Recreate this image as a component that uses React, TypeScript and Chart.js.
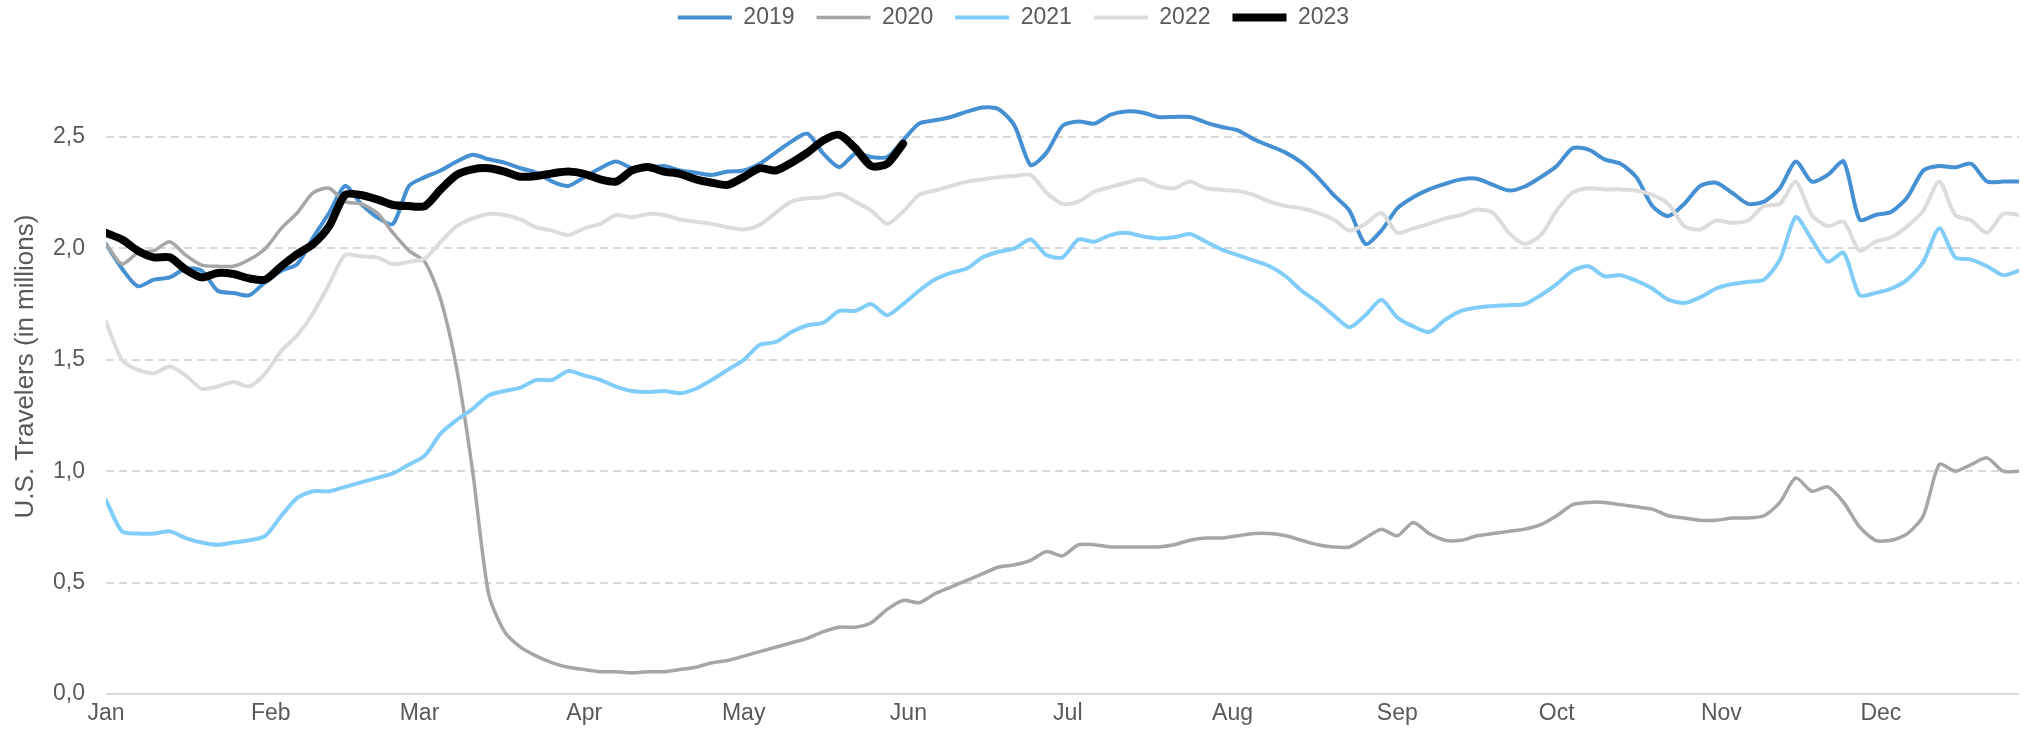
import React, { useEffect, useRef } from "react";
import { Chart, registerables } from "chart.js";

Chart.register(...registerables);

// Day of year (0 = Jan 1) for each sample
const days = [
  0, 3, 6, 9, 12, 15, 18, 21, 24, 27, 30, 33, 36, 39, 42, 45, 48, 51, 54, 57,
  60, 63, 66, 69, 72, 75, 78, 81, 84, 87, 90, 93, 96, 99, 102, 105, 108, 111, 114, 117,
  120, 123, 126, 129, 132, 135, 138, 141, 144, 147, 150, 153, 156, 159, 162, 165, 168, 171, 174, 177,
  180, 183, 186, 189, 192, 195, 198, 201, 204, 207, 210, 213, 216, 219, 222, 225, 228, 231, 234, 237,
  240, 243, 246, 249, 252, 255, 258, 261, 264, 267, 270, 273, 276, 279, 282, 285, 288, 291, 294, 297,
  300, 303, 306, 309, 312, 315, 318, 321, 324, 327, 330, 333, 336, 339, 342, 345, 348, 351, 354, 357, 360,
];

const travelers2019 = [
  2.02, 1.91, 1.83, 1.86, 1.87, 1.91, 1.90, 1.81, 1.80, 1.79, 1.85, 1.90, 1.93, 2.05, 2.16, 2.28, 2.20, 2.14, 2.11, 2.28,
  2.32, 2.35, 2.39, 2.42, 2.40, 2.385, 2.36, 2.34, 2.30, 2.28, 2.32, 2.36, 2.39, 2.36, 2.36, 2.37, 2.35, 2.34, 2.33, 2.345,
  2.35, 2.38, 2.43, 2.48, 2.515, 2.425, 2.365, 2.425, 2.41, 2.41, 2.485, 2.56, 2.575, 2.59, 2.614, 2.633, 2.625, 2.55, 2.374, 2.43,
  2.55, 2.57, 2.56, 2.60, 2.615, 2.61, 2.59, 2.59, 2.59, 2.565, 2.545, 2.53, 2.49, 2.46, 2.43, 2.385, 2.32, 2.24, 2.17, 2.02,
  2.08, 2.18, 2.23, 2.265, 2.29, 2.31, 2.313, 2.285, 2.26, 2.278, 2.32, 2.37, 2.45, 2.443, 2.40, 2.38, 2.32, 2.19, 2.145, 2.2,
  2.28, 2.295, 2.25, 2.20, 2.21, 2.27, 2.39, 2.30, 2.33, 2.39, 2.13, 2.15, 2.165, 2.23, 2.35, 2.37, 2.364, 2.38, 2.30, 2.30, 2.30,
];

const travelers2020 = [
  2.02, 1.93, 1.98, 1.99, 2.03, 1.97, 1.925, 1.92, 1.92, 1.95, 2.0, 2.09, 2.16, 2.25, 2.27, 2.21, 2.20, 2.16, 2.07, 1.99,
  1.94, 1.77, 1.46, 1.0, 0.45, 0.28, 0.21, 0.17, 0.14, 0.12, 0.11, 0.10, 0.10, 0.095, 0.10, 0.10, 0.11, 0.12, 0.14, 0.15,
  0.17, 0.19, 0.21, 0.23, 0.25, 0.28, 0.30, 0.30, 0.32, 0.38, 0.42, 0.41, 0.45, 0.48, 0.51, 0.54, 0.57, 0.58, 0.60, 0.64,
  0.62, 0.67, 0.67, 0.66, 0.66, 0.66, 0.66, 0.67, 0.69, 0.70, 0.70, 0.71, 0.72, 0.72, 0.71, 0.69, 0.67, 0.66, 0.66, 0.70,
  0.74, 0.71, 0.77, 0.72, 0.69, 0.69, 0.71, 0.72, 0.73, 0.74, 0.76, 0.80, 0.85, 0.86, 0.86, 0.85, 0.84, 0.83, 0.80, 0.79,
  0.78, 0.78, 0.79, 0.79, 0.80, 0.86, 0.97, 0.91, 0.93, 0.86, 0.75, 0.69, 0.69, 0.72, 0.80, 1.03, 1.0, 1.03, 1.06, 1.0, 1.0,
];

const travelers2021 = [
  0.87, 0.73, 0.72, 0.72, 0.73, 0.70, 0.68, 0.67, 0.68, 0.69, 0.71, 0.80, 0.88, 0.91, 0.91, 0.93, 0.95, 0.97, 0.99, 1.03,
  1.07, 1.17, 1.23, 1.28, 1.34, 1.36, 1.375, 1.41, 1.41, 1.45, 1.43, 1.41, 1.38, 1.36, 1.355, 1.36, 1.35, 1.37, 1.41, 1.455,
  1.50, 1.567, 1.58, 1.625, 1.655, 1.667, 1.72, 1.72, 1.75, 1.70, 1.75, 1.81, 1.86, 1.89, 1.91, 1.96, 1.985, 2.0, 2.04, 1.97,
  1.96, 2.04, 2.03, 2.06, 2.07, 2.055, 2.045, 2.05, 2.065, 2.03, 1.995, 1.97, 1.945, 1.92, 1.875, 1.81, 1.76, 1.70, 1.646, 1.70,
  1.77, 1.69, 1.65, 1.625, 1.68, 1.72, 1.735, 1.742, 1.745, 1.75, 1.79, 1.84, 1.90, 1.92, 1.875, 1.88, 1.855, 1.82, 1.77, 1.755,
  1.78, 1.82, 1.84, 1.85, 1.86, 1.95, 2.14, 2.04, 1.94, 1.98, 1.79, 1.80, 1.82, 1.86, 1.94, 2.09, 1.96, 1.95, 1.92, 1.88, 1.90,
];

const travelers2022 = [
  1.67, 1.50, 1.455, 1.44, 1.47, 1.43, 1.37, 1.38, 1.40, 1.38, 1.44, 1.54, 1.61, 1.71, 1.84, 1.97, 1.965, 1.96, 1.93, 1.94,
  1.955, 2.03, 2.10, 2.135, 2.155, 2.15, 2.13, 2.095, 2.08, 2.06, 2.09, 2.11, 2.15, 2.14, 2.155, 2.15, 2.13, 2.12, 2.11, 2.095,
  2.085, 2.105, 2.16, 2.21, 2.225, 2.23, 2.245, 2.21, 2.17, 2.11, 2.165, 2.24, 2.26, 2.28, 2.30, 2.31, 2.32, 2.325, 2.33, 2.25,
  2.20, 2.21, 2.255, 2.275, 2.295, 2.31, 2.28, 2.27, 2.30, 2.27, 2.263, 2.258, 2.24, 2.21, 2.19, 2.18, 2.16, 2.13, 2.08, 2.11,
  2.16, 2.07, 2.09, 2.11, 2.135, 2.15, 2.175, 2.16, 2.07, 2.02, 2.06, 2.17, 2.25, 2.27, 2.265, 2.265, 2.26, 2.24, 2.20, 2.10,
  2.085, 2.125, 2.115, 2.125, 2.19, 2.20, 2.30, 2.15, 2.10, 2.12, 1.99, 2.03, 2.05, 2.10, 2.17, 2.30, 2.15, 2.125, 2.07, 2.155, 2.15,
];

// 2023 data runs only to early June
const travelers2023 = [
  2.07, 2.04, 1.99, 1.96, 1.96, 1.905, 1.87, 1.89, 1.885, 1.865, 1.86, 1.92, 1.975, 2.02, 2.10, 2.24, 2.24, 2.22, 2.195, 2.19,
  2.19, 2.265, 2.33, 2.355, 2.36, 2.345, 2.322, 2.325, 2.337, 2.345, 2.335, 2.31, 2.30, 2.35, 2.365, 2.345, 2.335, 2.31, 2.295, 2.285,
  2.32, 2.36, 2.35, 2.385, 2.43, 2.485, 2.51, 2.45, 2.37, 2.38, 2.47,
];

const monthTicks = [0, 31, 59, 90, 120, 151, 181, 212, 243, 273, 304, 334];
const monthLabels = ["Jan", "Feb", "Mar", "Apr", "May", "Jun", "Jul", "Aug", "Sep", "Oct", "Nov", "Dec"];
const yTicks = [0, 0.5, 1, 1.5, 2, 2.5];

const seriesNames = ["2019", "2020", "2021", "2022", "2023"];
const seriesValues = [travelers2019, travelers2020, travelers2021, travelers2022, travelers2023];
const seriesColors = ["#4590D3", "#A6A6A6", "#80CDFA", "#DCDCDC", "#000000"];
const seriesWidths = [4, 3.5, 4, 4, 8];

const FONT = "'Liberation Sans', Arial, sans-serif";
const TEXT = "#595959";

export default function App() {
  const ref = useRef<HTMLCanvasElement | null>(null);

  useEffect(() => {
    const canvas = ref.current;
    if (!canvas) return;
    // drawn in reverse so 2023 sits on top
    const datasets = seriesNames
      .map((name, i) => ({
        label: name,
        data: seriesValues[i].map((v, j) => ({ x: days[j], y: v })),
        borderColor: seriesColors[i],
        backgroundColor: seriesColors[i],
        borderWidth: seriesWidths[i],
        borderCapStyle: "round" as const,
        borderJoinStyle: "round" as const,
        pointRadius: 0,
        pointHoverRadius: 0,
        tension: 0.25,
        fill: false,
      }))
      .reverse();

    const chart = new Chart(canvas, {
      type: "line",
      data: { datasets },
      options: {
        animation: false,
        responsive: false,
        maintainAspectRatio: false,
        layout: { padding: { left: 8, right: 4, top: -16, bottom: 0 } },
        plugins: {
          legend: {
            position: "top",
            labels: {
              usePointStyle: true,
              pointStyle: "line",
              pointStyleWidth: 54,
              boxHeight: 23,
              padding: 22,
              color: TEXT,
              font: { family: FONT, size: 23 },
              sort: (a: any, b: any) => b.datasetIndex - a.datasetIndex,
            },
          },
          tooltip: { enabled: false },
        },
        scales: {
          x: {
            type: "linear",
            min: 0,
            max: 360,
            afterBuildTicks: (scale: any) => {
              scale.ticks = monthTicks.map((v) => ({ value: v }));
            },
            afterFit: (scale: any) => {
              scale.height = 41;
            },
            ticks: {
              autoSkip: false,
              maxRotation: 0,
              padding: 6,
              color: TEXT,
              font: { family: FONT, size: 23 },
              callback: (v: any) => {
                const k = monthTicks.indexOf(Number(v));
                return k >= 0 ? monthLabels[k] : "";
              },
            },
            grid: { display: false, drawTicks: false },
            border: { display: false },
          },
          y: {
            min: 0,
            max: 2.94,
            afterBuildTicks: (scale: any) => {
              scale.ticks = yTicks.map((v) => ({ value: v }));
            },
            afterFit: (scale: any) => {
              scale.width = 98;
            },
            ticks: {
              padding: 21,
              color: TEXT,
              font: { family: FONT, size: 23 },
              callback: (v: any) => Number(v).toFixed(1).replace(".", ","),
            },
            grid: { color: "#D9D9D9", lineWidth: 2, drawTicks: false },
            border: {
              display: false,
              dash: (ctx: any) => (ctx.tick && ctx.tick.value === 0 ? [] : [8, 5]),
            },
            title: {
              display: true,
              text: "U.S. Travelers (in millions)",
              color: TEXT,
              font: { family: FONT, size: 26 },
              padding: { top: 2, bottom: 2 },
            },
          },
        },
      },
    });
    return () => chart.destroy();
  }, []);

  return (
    <div style={{ position: "absolute", left: 0, top: 0, width: 2023, height: 735, background: "#fff" }}>
      <canvas ref={ref} width={2023} height={735} style={{ width: 2023, height: 735, display: "block" }} />
    </div>
  );
}
